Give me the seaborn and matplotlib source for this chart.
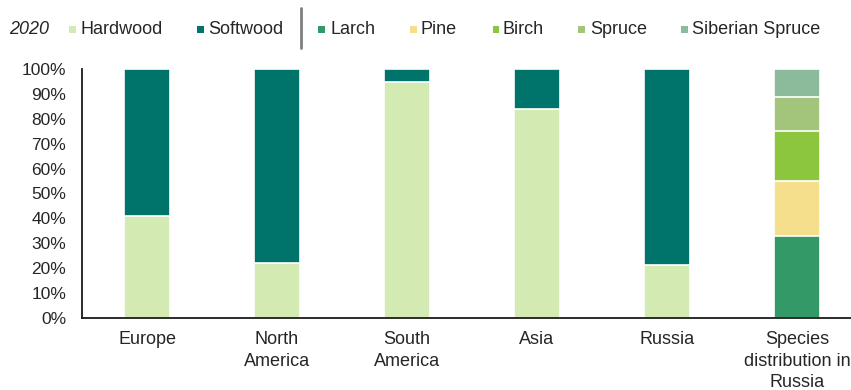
import matplotlib
matplotlib.use("Agg")
import matplotlib.pyplot as plt
import seaborn as sns
import pandas as pd
import numpy as np
from matplotlib.patches import Rectangle
from matplotlib.lines import Line2D

# ---------------- data ----------------
categories = ["Europe", "North\nAmerica", "South\nAmerica", "Asia", "Russia",
              "Species\ndistribution in\nRussia"]
hardwood = [41, 22, 95, 84, 21, 0]
softwood = [59, 78, 5, 16, 79, 0]
species_names = ["Larch", "Pine", "Birch", "Spruce", "Siberian Spruce"]
species_values = [33, 22, 20, 14, 11]
y_ticks = [0, 10, 20, 30, 40, 50, 60, 70, 80, 90, 100]
y_tick_labels = [f"{v}%" for v in y_ticks]
year_label = "2020"

series_names = ["Hardwood", "Softwood"] + species_names
series_colors = ["#d3ebb2", "#00736b", "#339966", "#f6df8c", "#8cc63e",
                 "#a2c47b", "#8bbb9b"]

# per-series values over all categories
series_values = [hardwood, softwood]
for v in species_values:
    series_values.append([0, 0, 0, 0, 0, v])
vals = np.array(series_values, dtype=float)
tops = np.cumsum(vals, axis=0)

# ---------------- style ----------------
sns.set_theme(style="white")
plt.rcParams['font.family'] = ['Liberation Sans', 'DejaVu Sans']
text_color = "#262626"

W, H = 851, 390
fig = plt.figure(figsize=(W / 100, H / 100), dpi=100)
ax_left, ax_bottom_px, ax_top_px = 82, 317.5, 69.3
ax = fig.add_axes([ax_left / W, 1 - ax_bottom_px / H, (W - ax_left) / W,
                   (ax_bottom_px - ax_top_px) / H])

# draw stacked bars: top segments first, lower segments overdraw
for i in reversed(range(len(series_names))):
    mask = vals[i] > 0
    df = pd.DataFrame({"cat": np.array(categories)[mask], "top": tops[i][mask]})
    sns.barplot(data=df, x="cat", y="top", order=categories,
                color=series_colors[i], saturation=1, width=0.354,
                edgecolor="white", linewidth=1.2, errorbar=None, ax=ax)

slot_px = 130
ax.set_xlim(-0.5, 5.5 - (ax_left + 6 * slot_px - W) / slot_px)
ax.set_ylim(0, 100)
ax.set_yticks(y_ticks)
ax.set_yticklabels(y_tick_labels)
ax.set_xlabel("")
ax.set_ylabel("")
for s in ["top", "right"]:
    ax.spines[s].set_visible(False)
for s in ["left", "bottom"]:
    ax.spines[s].set_color("#1a1a1a")
    ax.spines[s].set_linewidth(1.3)
ax.tick_params(axis="y", length=0, pad=11.5, labelsize=12.5, labelcolor=text_color)
ax.tick_params(axis="x", length=0, pad=10, labelsize=13, labelcolor=text_color)
for lab in ax.get_xticklabels():
    lab.set_linespacing(1.32)

# ---------------- legend (manual header) ----------------
def fx(px):
    return px / W

def fy(py):
    return 1 - py / H

baseline = 34.5
fig.text(fx(9), fy(baseline), year_label, fontsize=13, style="italic",
         color=text_color, va="baseline", ha="left")

square_x = [69, 197, 318, 410, 493, 578, 681]
text_x = [81, 208, 331, 421, 503, 590, 692]
sq = 6.5
for name, col, sx, tx in zip(series_names, series_colors, square_x, text_x):
    fig.add_artist(Rectangle((fx(sx), fy(33)), sq / W, sq / H,
                             transform=fig.transFigure, facecolor=col,
                             edgecolor="none"))
    fig.text(fx(tx), fy(baseline), name, fontsize=13, color=text_color,
             va="baseline", ha="left")

fig.add_artist(Line2D([fx(300.5), fx(300.5)], [fy(8), fy(48)],
                      transform=fig.transFigure, color="#7f7f7f", lw=2))

fig.savefig("out.png", dpi=100)
